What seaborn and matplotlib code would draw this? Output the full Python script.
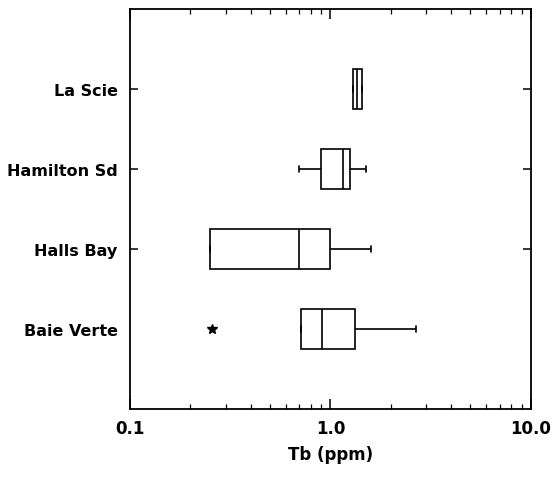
import numpy as np
import pandas as pd
import matplotlib
matplotlib.use("Agg")
import matplotlib.pyplot as plt
import seaborn as sns
from matplotlib.ticker import LogLocator, FixedLocator, FixedFormatter, NullFormatter

# Tb concentrations (ppm) by locality
la_scie = [1.30, 1.30, 1.36, 1.43, 1.43]
hamilton_sd = [0.70, 0.90, 1.15, 1.26, 1.51]
halls_bay = [0.25, 0.25, 0.70, 1.00, 1.60]
baie_verte = [0.257, 0.71, 0.71, 0.91, 0.91, 1.32, 1.32, 2.69, 2.69]

localities = ["La Scie", "Hamilton Sd", "Halls Bay", "Baie Verte"]
x_ticks = [0.1, 1.0, 10.0]
x_tick_labels = ["0.1", "1.0", "10.0"]

groups = [la_scie, hamilton_sd, halls_bay, baie_verte]
df = pd.DataFrame({
    "locality": np.concatenate([[name] * len(v) for name, v in zip(localities, groups)]),
    "tb": np.concatenate(groups),
})

sns.set_theme(style="ticks")
plt.rcParams["font.family"] = ["DejaVu Sans"]
plt.rcParams.update({
    "text.color": "black", "axes.labelcolor": "black",
    "xtick.color": "black", "ytick.color": "black",
    "axes.edgecolor": "black",
})

fig = plt.figure(figsize=(5.54, 4.81), dpi=100)
ax = fig.add_axes([0.2347, 0.1476, 0.7233, 0.8316])

line_kw = dict(color="black", linewidth=1.2)
sns.boxplot(
    data=df, x="tb", y="locality", order=localities, orient="h",
    log_scale=True, width=0.5, whis=1.5,
    color="white", linecolor="black", linewidth=1.2,
    boxprops=dict(facecolor="white", edgecolor="black", linewidth=1.2),
    medianprops=line_kw, whiskerprops=line_kw, capprops=line_kw,
    flierprops=dict(marker="*", markersize=7, markerfacecolor="black",
                    markeredgecolor="black", linestyle="none"),
    capwidths=0.08,
    ax=ax,
)

ax.set_xlim(0.1, 10.0)
ax.set_ylim(4.0, -1.0)

ax.xaxis.set_major_locator(FixedLocator(x_ticks))
ax.xaxis.set_major_formatter(FixedFormatter(x_tick_labels))
ax.xaxis.set_minor_locator(LogLocator(base=10, subs=np.arange(2, 10)))
ax.xaxis.set_minor_formatter(NullFormatter())

ax.tick_params(axis="x", which="major", direction="in", length=7, width=1.1,
               top=True, bottom=True, pad=7, labelsize=12, colors="black")
ax.tick_params(axis="x", which="minor", direction="in", length=3.5, width=0.9,
               top=True, bottom=True, colors="black")
ax.tick_params(axis="y", which="major", direction="in", length=6, width=1.1,
               left=True, right=True, pad=9, labelsize=11.5, colors="black")
ax.tick_params(axis="y", which="minor", left=False, right=False)

for t in ax.get_xticklabels() + ax.get_yticklabels():
    t.set_fontweight("heavy")
    t.set_color("black")

# the lowest locality carries no tick marks
last = ax.yaxis.get_major_ticks()[-1]
last.tick1line.set_visible(False)
last.tick2line.set_visible(False)

for s in ax.spines.values():
    s.set_visible(True)
    s.set_color("black")
    s.set_linewidth(1.3)

ax.set_ylabel("")
ax.set_xlabel("Tb (ppm)", fontsize=12, fontweight="heavy", labelpad=6, color="black")
ax.grid(False)

fig.savefig("out.png", dpi=100, facecolor="white")
